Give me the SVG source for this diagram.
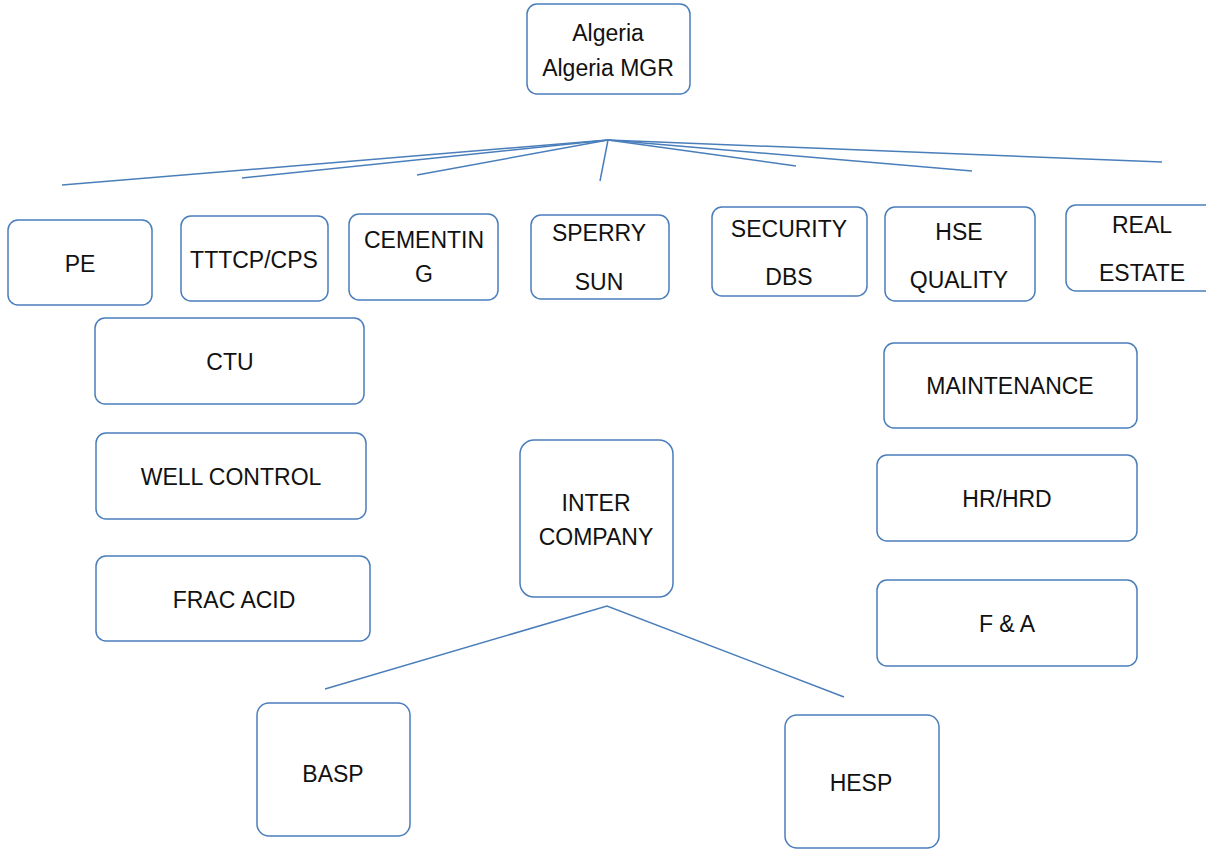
<svg xmlns="http://www.w3.org/2000/svg" width="1206" height="850" viewBox="0 0 1206 850">
<style>
.box{fill:#fff;stroke:#4a7ebb;stroke-width:1.5}
.t{font-family:"Liberation Sans",Arial,sans-serif;font-size:23px;fill:#111;text-anchor:middle}
.c{stroke:#4a7ebb;stroke-width:1.5;fill:none}
</style>
<rect width="1206" height="850" fill="#fff"/>
<g id="connectors">
<line class="c" x1="608" y1="140" x2="62" y2="185"/>
<line class="c" x1="608" y1="140" x2="242" y2="178"/>
<line class="c" x1="608" y1="140" x2="417" y2="175"/>
<line class="c" x1="608" y1="140" x2="600" y2="181"/>
<line class="c" x1="608" y1="140" x2="796" y2="166"/>
<line class="c" x1="608" y1="140" x2="972" y2="171"/>
<line class="c" x1="608" y1="140" x2="1162" y2="162"/>
<polyline class="c" points="325,689 607,606 844,697"/>
</g>
<g id="algeria"><rect class="box" x="527" y="4" width="163" height="90" rx="10"/><text class="t" x="608" y="41">Algeria</text><text class="t" x="608" y="76">Algeria MGR</text></g>
<g id="pe"><rect class="box" x="8" y="220" width="144" height="85" rx="10"/><text class="t" x="80" y="272">PE</text></g>
<g id="tttcp"><rect class="box" x="181" y="216" width="147" height="85" rx="10"/><text class="t" x="254" y="268">TTTCP/CPS</text></g>
<g id="cementing"><rect class="box" x="349" y="214" width="149" height="86" rx="10"/><text class="t" x="424" y="248">CEMENTIN</text><text class="t" x="424" y="282">G</text></g>
<g id="sperry"><rect class="box" x="531" y="215" width="138" height="84" rx="10"/><text class="t" x="599" y="241">SPERRY</text><text class="t" x="599" y="290">SUN</text></g>
<g id="security"><rect class="box" x="712" y="207" width="155" height="89" rx="10"/><text class="t" x="789" y="237">SECURITY</text><text class="t" x="789" y="285">DBS</text></g>
<g id="hse"><rect class="box" x="885" y="207" width="150" height="94" rx="10"/><text class="t" x="959" y="240">HSE</text><text class="t" x="959" y="288">QUALITY</text></g>
<g id="realestate"><rect class="box" x="1066" y="205" width="150" height="86" rx="10"/><text class="t" x="1142" y="233">REAL</text><text class="t" x="1142" y="281">ESTATE</text></g>
<g id="ctu"><rect class="box" x="95" y="318" width="269" height="86" rx="10"/><text class="t" x="230" y="370">CTU</text></g>
<g id="wellcontrol"><rect class="box" x="96" y="433" width="270" height="86" rx="10"/><text class="t" x="231" y="485">WELL CONTROL</text></g>
<g id="fracacid"><rect class="box" x="96" y="556" width="274" height="85" rx="10"/><text class="t" x="234" y="608">FRAC ACID</text></g>
<g id="intercompany"><rect class="box" x="520" y="440" width="153" height="157" rx="14"/><text class="t" x="596" y="511">INTER</text><text class="t" x="596" y="545">COMPANY</text></g>
<g id="maintenance"><rect class="box" x="884" y="343" width="253" height="85" rx="10"/><text class="t" x="1010" y="394">MAINTENANCE</text></g>
<g id="hrhrd"><rect class="box" x="877" y="455" width="260" height="86" rx="10"/><text class="t" x="1007" y="507">HR/HRD</text></g>
<g id="fa"><rect class="box" x="877" y="580" width="260" height="86" rx="10"/><text class="t" x="1007" y="632">F &amp; A</text></g>
<g id="basp"><rect class="box" x="257" y="703" width="153" height="133" rx="12"/><text class="t" x="333" y="782">BASP</text></g>
<g id="hesp"><rect class="box" x="785" y="715" width="154" height="133" rx="12"/><text class="t" x="861" y="791">HESP</text></g>
</svg>
